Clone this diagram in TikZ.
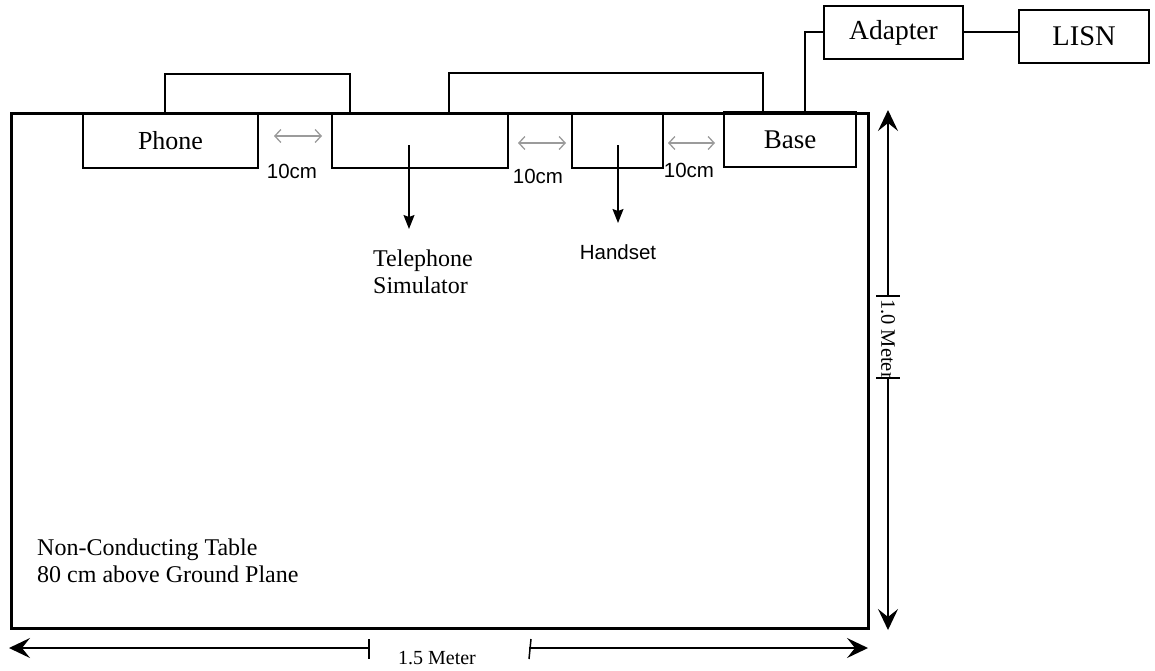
\documentclass[tikz,border=0pt]{standalone}
\usepackage{fontspec}
\setmainfont{Liberation Serif}
\setsansfont{Liberation Sans}
\usetikzlibrary{arrows.meta}
\definecolor{arrgray}{RGB}{155,155,155}
\begin{document}
\begin{tikzpicture}[x=1pt,y=-1pt,
  box/.style={draw,line width=1.5pt},
  serif/.style={font=\fontsize{24}{27}\selectfont,inner sep=0pt},
  sans/.style={font=\sffamily\fontsize{20.5}{24}\selectfont,inner sep=0pt},
  gap/.style={arrgray,line width=1.3pt,{Straight Barb[length=6pt,width=13pt]}-{Straight Barb[length=6pt,width=13pt]}},
  dim/.style={line width=1.5pt,{Stealth[length=21pt,width=20pt,inset=8pt]}-{Stealth[length=21pt,width=20pt,inset=8pt]}},
  pointer/.style={line width=1.5pt,-{Stealth[length=14pt,width=11pt,inset=2pt]}},
  wire/.style={line width=1.5pt},
  power/.style={line width=2.8pt}]
\useasboundingbox (0,0) rectangle (1155,670);
% table
\draw[line width=3pt] (11,113) rectangle (868,628);
% boxes
\node[box,font=\fontsize{26}{30}\selectfont,minimum width=175pt,minimum height=55pt] (phone) at (170.5,140.5) {Phone};
\node[box,minimum width=176pt,minimum height=55pt] (sim) at (420,140.5) {};
\node[box,minimum width=91pt,minimum height=55pt] (hand) at (617.5,140.5) {};
\node[box,font=\fontsize{27}{30}\selectfont,minimum width=132pt,minimum height=55pt] (base) at (790,139.5) {Base};
\node[box,font=\fontsize{27.5}{30}\selectfont,minimum width=139pt,minimum height=53pt] (adapter) at (893.5,32.5) {Adapter};
\node[box,font=\fontsize{28.5}{30}\selectfont,minimum width=130pt,minimum height=53pt] (lisn) at (1084,36.5) {LISN};
% connectors over the top
\coordinate (c1) at (165,113);
\coordinate (c2) at (350,113);
\coordinate (c3) at (449,113);
\coordinate (c4) at (763,113);
\draw[wire] (c1) -- (165,74) -- (350,74) -- (c2);
\draw[wire] (c3) -- (449,73) -- (763,73) -- (c4);
\coordinate (p0) at (805,112);
\coordinate (p1) at (805,32);
\coordinate (p2) at (adapter.west |- p1);
\coordinate (p3) at (adapter.east |- p1);
\coordinate (p4) at (lisn.west |- p1);
\draw[power] (p0) -- (p1) -- (p2);
\draw[power] (p3) -- (p4);
% gap arrows
\coordinate (g1a) at (274,136); \coordinate (g1b) at (322,136);
\coordinate (g2a) at (518,143); \coordinate (g2b) at (566,143);
\coordinate (g3a) at (668,143); \coordinate (g3b) at (715,143);
\draw[gap] (g1a) -- (g1b);
\draw[gap] (g2a) -- (g2b);
\draw[gap] (g3a) -- (g3b);
\node[sans] (l1) at (292,171) {10cm};
\node[sans] (l2) at (538,176) {10cm};
\node[sans] (l3) at (689,170) {10cm};
% pointers
\node[serif,align=left,anchor=north west] (simlabel) at (373,250) {Telephone\\Simulator};
\node[sans] (handlabel) at (618,252) {Handset};
\draw[pointer] (409,145) -- (409,229);
\draw[pointer] (618,145) -- (618,223);
% table label
\node[serif,align=left,anchor=west] (tablelabel) at (37,561) {Non-Conducting Table\\80 cm above Ground Plane};
% dimensions
\coordinate (vtop) at (888,110);
\coordinate (vbot) at (888,630);
\draw[dim] (vtop) -- (vbot);
\fill[white] (880,297) rectangle (897,377);
\draw[line width=1.5pt] (876,296) -- (900,296);
\draw[line width=1.5pt] (876,378) -- (900,378);
\node[serif,font=\fontsize{20.5}{24}\selectfont,rotate=-90] (vlabel) at (888,339) {1.0 Meter};
\coordinate (hleft) at (9,648);
\coordinate (hright) at (868,648);
\draw[dim] (hleft) -- (hright);
\fill[white] (370,640) rectangle (529,656);
\draw[line width=1.5pt] (369,639) -- (369,659);
\draw[line width=1.5pt] (531,639) -- (529,659);
\node[serif,font=\fontsize{20}{24}\selectfont] (hlabel) at (437,658) {1.5 Meter};
\end{tikzpicture}
\end{document}
